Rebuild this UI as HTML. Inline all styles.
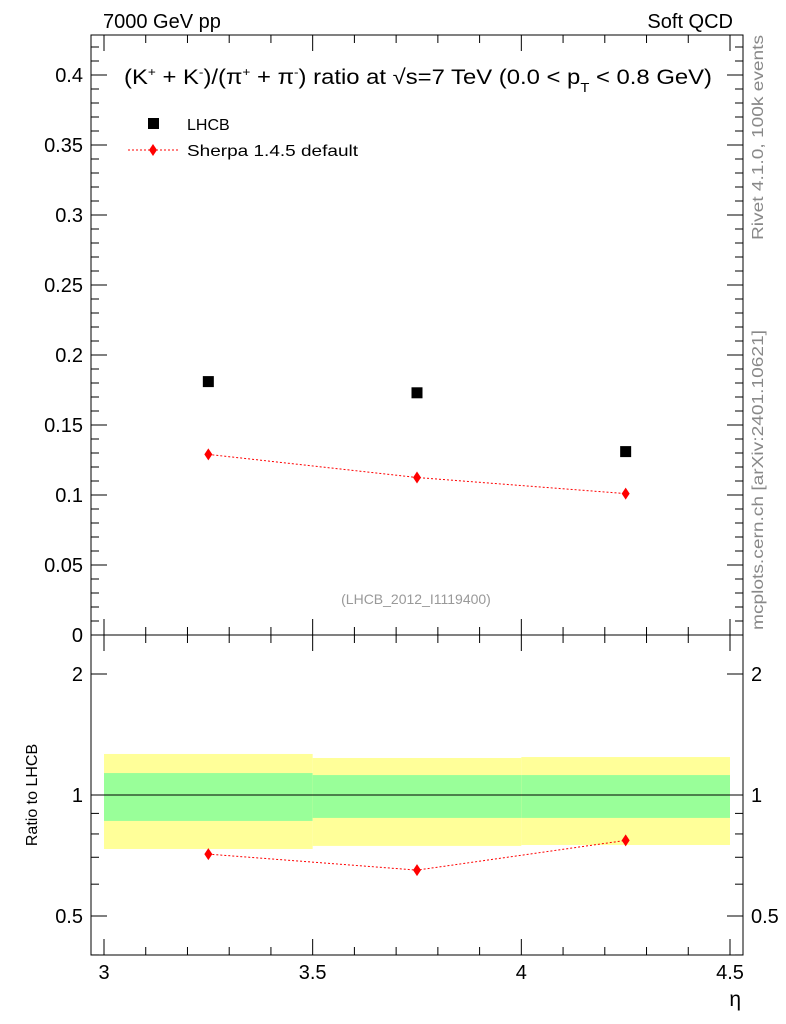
<!DOCTYPE html>
<html><head><meta charset="utf-8"><style>
body{margin:0;background:#fff;}
svg{display:block;font-family:"Liberation Sans",sans-serif;}
</style></head><body>
<svg id="c" width="786" height="1024" viewBox="0 0 786 1024">
<rect x="0" y="0" width="786" height="1024" fill="#fff"/>
<text x="103" y="28" font-size="20">7000 GeV pp</text>
<text x="733" y="28" font-size="20" text-anchor="end">Soft QCD</text>
<text x="124" y="84" font-size="21" textLength="588" lengthAdjust="spacingAndGlyphs">(K<tspan font-size="12" dy="-8">+</tspan><tspan dy="8"> + K</tspan><tspan font-size="12" dy="-8">-</tspan><tspan dy="8">)/(π</tspan><tspan font-size="12" dy="-8">+</tspan><tspan dy="8"> + π</tspan><tspan font-size="12" dy="-8">-</tspan><tspan dy="8">) ratio at √s=7 TeV (0.0 &lt; p</tspan><tspan font-size="13" dy="8">T</tspan><tspan dy="-8"> &lt; 0.8 GeV)</tspan></text>
<g>
<rect x="148" y="118" width="11" height="11" fill="#000"/>
<text x="187" y="130" font-size="16">LHCB</text>
<line x1="128" y1="150" x2="178" y2="150" stroke="red" stroke-dasharray="2,2"/>
<path d="M153,144 L157,150 L153,156 L149,150Z" fill="red"/>
<text x="187" y="156" font-size="16" textLength="171" lengthAdjust="spacingAndGlyphs">Sherpa 1.4.5 default</text>
</g>
<text x="416" y="604" font-size="14" fill="#999" text-anchor="middle">(LHCB_2012_I1119400)</text>
<text transform="translate(763,240) rotate(-90)" font-size="16" fill="#888" textLength="205" lengthAdjust="spacingAndGlyphs">Rivet 4.1.0,  100k events</text>
<text transform="translate(763,630) rotate(-90)" font-size="16" fill="#888" textLength="300" lengthAdjust="spacingAndGlyphs">mcplots.cern.ch [arXiv:2401.10621]</text>
<text transform="translate(37,795) rotate(-90)" font-size="16" text-anchor="middle">Ratio to LHCB</text>
<text x="741" y="1006" font-size="21" text-anchor="end">η</text>
<g id="g"></g>
</svg>
<script>
const binEdges=[3,3.5,4,4.5];
const xCenters=[3.25,3.75,4.25];
const lhcb=[0.181,0.173,0.131];
const sherpa=[0.129,0.1125,0.101];
const yellowUp=[1.265,1.236,1.243];
const yellowDn=[0.734,0.747,0.751];
const greenUp=[1.134,1.121,1.121];
const greenDn=[0.862,0.877,0.877];
const mainTicks=["0","0.05","0.1","0.15","0.2","0.25","0.3","0.35","0.4"];
const xTicks=["3","3.5","4","4.5"];
const ratioTicks=["0.5","1","2"];

const L=91,R=743,T=35,M=635,B=955;
const X=v=>104+(v-3)*417.33;
const Y=v=>635-v*1400;
const RY=r=>795-Math.log2(r)*121;
const g=document.getElementById('g');
const NS='http://www.w3.org/2000/svg';
function el(t,a){const e=document.createElementNS(NS,t);for(const k in a)e.setAttribute(k,a[k]);g.appendChild(e);return e;}

for(let i=0;i<xCenters.length;i++){
 const y1=el('rect',{x:X(binEdges[i]),y:RY(yellowUp[i]),width:X(binEdges[i+1])-X(binEdges[i]),height:RY(yellowDn[i])-RY(yellowUp[i]),fill:'#ffff99'});
 
 
 const g1=el('rect',{x:X(binEdges[i]),y:RY(greenUp[i]),width:X(binEdges[i+1])-X(binEdges[i]),height:RY(greenDn[i])-RY(greenUp[i]),fill:'#99ff99'});
 
 
}
const ul=el('line',{x1:L,x2:R,y1:RY(1),y2:RY(1),stroke:'#000'});



const f1=el('rect',{x:L,y:T,width:R-L,height:M-T,fill:'none',stroke:'#000'});


const f2=el('rect',{x:L,y:M,width:R-L,height:B-M,fill:'none',stroke:'#000'});



for(let v=0;v<=0.4286;v+=0.01){
 const maj=Math.abs(v/0.05-Math.round(v/0.05))<1e-6;const len=maj?16:8;const y=Y(v);
 el('line',{x1:L,x2:L+len,y1:y,y2:y,stroke:'#000'});
 el('line',{x1:R-len,x2:R,y1:y,y2:y,stroke:'#000'});
}
mainTicks.forEach(s=>{const t=el('text',{x:L-8,y:Y(+s)+7,'font-size':20,'text-anchor':'end'});t.textContent=s;
 
 });
for(let i=0;i<=15;i++){const v=3+i*0.1;const maj=i%5==0;const x=X(v);const len=maj?16:8;
 [M,B].forEach(b=>el('line',{x1:x,x2:x,y1:b,y2:b-len,stroke:'#000'}));
 [T,M].forEach(t=>el('line',{x1:x,x2:x,y1:t,y2:t+len,stroke:'#000'}));}
xTicks.forEach(s=>{const t=el('text',{x:X(+s),y:979,'font-size':20,'text-anchor':'middle'});t.textContent=s;
 
 });
[0.4,0.5,0.6,0.7,0.8,0.9,1,2].forEach(r=>{const maj=[0.5,1,2].includes(r);const len=maj?16:8;const y=RY(r);
 el('line',{x1:L,x2:L+len,y1:y,y2:y,stroke:'#000'});el('line',{x1:R-len,x2:R,y1:y,y2:y,stroke:'#000'});});
ratioTicks.forEach(s=>{[[L-8,'end'],[R+8,'start']].forEach(([x,a])=>{const t=el('text',{x:x,y:RY(+s)+7,'font-size':20,'text-anchor':a});t.textContent=s;
 
 });});

const pl=el('polyline',{points:xCenters.map((x,i)=>X(x)+','+Y(sherpa[i])).join(' '),fill:'none',stroke:'red','stroke-dasharray':'2,2'});


const rl=el('polyline',{points:xCenters.map((x,i)=>X(x)+','+RY(sherpa[i]/lhcb[i])).join(' '),fill:'none',stroke:'red','stroke-dasharray':'2,2'});


xCenters.forEach((x,i)=>{
 const cx=X(x);
 const sq=el('rect',{x:cx-5.5,y:Y(lhcb[i])-5.5,width:11,height:11,fill:'#000'});
 
 
 const d=(y)=>`M${cx},${y-6} L${cx+4},${y} L${cx},${y+6} L${cx-4},${y}Z`;
 const p=el('path',{d:d(Y(sherpa[i])),fill:'red'});
 
 
 const q=el('path',{d:d(RY(sherpa[i]/lhcb[i])),fill:'red'});
 
 
});
</script>
</body></html>
